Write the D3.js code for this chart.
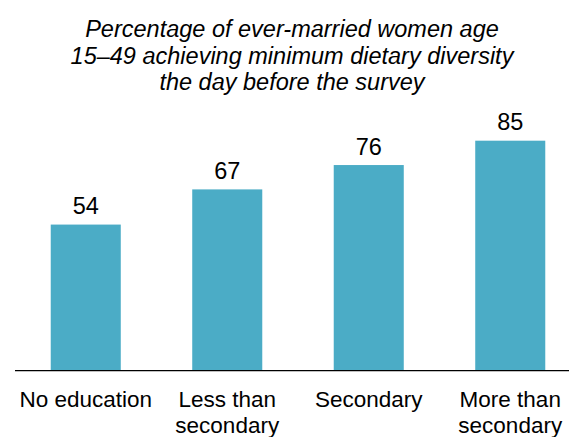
<!DOCTYPE html>
<html><head><meta charset="utf-8">
<script src="https://cdn.jsdelivr.net/npm/d3@7"></script>
<style>body{margin:0;background:#fff}svg{display:block}</style>
</head><body>
<svg id="c" width="569" height="437"></svg>
<script>
const categories = [["No education"], ["Less than", "secondary"], ["Secondary"], ["More than", "secondary"]];
const values = [54, 67, 76, 85];
const titleLines = ["Percentage of ever-married women age", "15\u201349 achieving minimum dietary diversity", "the day before the survey"];

const svg = d3.select("#c");
const font = "Arial, 'Liberation Sans', sans-serif";
const x = d3.scaleBand().domain(d3.range(values.length)).range([15, 581]).paddingInner(0.505).paddingOuter(0.2525);
const y = d3.scaleLinear().domain([0, 100]).range([370.7, 100.1]);

svg.append("g").selectAll("text").data(titleLines).join("text")
  .attr("x", 292).attr("y", (d, i) => 37 + i * 26.6)
  .attr("text-anchor", "middle").attr("font-family", font).attr("font-style", "italic")
  .attr("font-size", 23.5).attr("fill", "#000").text(d => d);

svg.append("g").selectAll("rect").data(values).join("rect")
  .attr("x", (d, i) => x(i)).attr("width", x.bandwidth())
  .attr("y", d => y(d)).attr("height", d => y(0) - y(d))
  .attr("fill", "#4bacc6");

svg.append("g").selectAll("text").data(values).join("text")
  .attr("x", (d, i) => x(i) + x.bandwidth() / 2).attr("y", d => y(d) - 10.5)
  .attr("text-anchor", "middle").attr("font-family", font).attr("font-size", 23.5)
  .attr("fill", "#000").text(d => d);

svg.append("line").attr("x1", 15).attr("x2", 569).attr("y1", y(0)).attr("y2", y(0))
  .attr("stroke", "#000").attr("stroke-width", 1.2);

const lab = svg.append("g").selectAll("text").data(categories).join("text")
  .attr("x", (d, i) => x(i) + x.bandwidth() / 2).attr("y", 407)
  .attr("text-anchor", "middle").attr("font-family", font).attr("font-size", 22.5).attr("fill", "#000");
lab.selectAll("tspan").data(d => d).join("tspan")
  .attr("x", function() { return d3.select(this.parentNode).attr("x"); })
  .attr("dy", (d, i) => i === 0 ? 0 : 25.5).text(d => d);
</script>
</body></html>
